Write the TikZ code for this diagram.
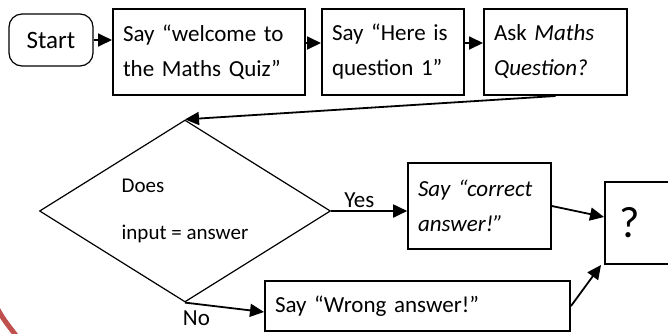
\documentclass[tikz,border=0pt]{standalone}
\usepackage{fontspec}
\setmainfont{Carlito}
\usetikzlibrary{shapes.geometric,arrows.meta}
\definecolor{arcred}{RGB}{192,80,77}
\tikzset{
    procbox/.style={draw,line width=2pt,rectangle,minimum height=86pt,inner xsep=10pt,align=left,font=\fontsize{23}{35}\selectfont},
    flowarrow/.style={line width=1.8pt,-{Triangle[length=14pt,width=13pt]}},
    lbl/.style={font=\fontsize{23}{28}\selectfont}
}

\begin{document}
\begin{tikzpicture}[x=1pt,y=-1pt]
    \useasboundingbox (0,0) rectangle (668,333);
    \clip (0,0) rectangle (668,333);
    \node [draw,line width=1.2pt,rounded corners=13pt,minimum width=84pt,minimum height=52pt,font=\fontsize{25}{30}\selectfont] (start) at (51,40){Start};
    \node [procbox,text width=172pt] (welcome) at (209,52){Say “welcome to\\the Maths Quiz”};
    \node [procbox,text width=122pt] (here) at (393,52){Say “Here is\\question 1”};
    \node [procbox,text width=123pt] (ask) at (555.5,52){Ask \textit{Maths}\\\textit{Question?}};
    \node [draw,diamond,aspect=1.6,line width=1.2pt,minimum width=291pt,minimum height=182pt,inner sep=0pt,align=left,font=\fontsize{21}{47}\selectfont] (check) at (185,211){Does\\input = answer};
    \node [procbox,line width=1.6pt,text width=123pt,font=\fontsize{23}{35}\selectfont\itshape] (correct) at (479.5,206){Say “correct\\answer!”};
    \node [procbox,minimum height=82pt,inner xsep=14pt,text width=70pt,font=\fontsize{44}{44}\selectfont,anchor=west] (result) at (604,223){?};
    \node [procbox,minimum height=50pt,text width=285pt] (wrong) at (417.5,306){Say “Wrong answer!”};

    \draw [flowarrow] (start.east) -- (welcome.west |- start.east);
    \draw [flowarrow] ([yshift=9pt]welcome.east) -- ([yshift=9pt]here.west);
    \draw [flowarrow] ([yshift=9pt]here.east) -- ([yshift=9pt]ask.west);
    \draw [flowarrow] (ask.south) -- (check.north);
    \draw [flowarrow] (check.east) -- (correct.west |- check.east) node[pos=0.37,above,inner sep=2pt,lbl]{Yes};
    \draw [flowarrow] (correct.east) -- ([yshift=6pt]result.west);
    \draw [flowarrow] (check.south) node[anchor=north west,xshift=-4pt,yshift=-6pt,inner sep=1pt,lbl]{No} -- ([yshift=-6pt]wrong.west);
    \draw [flowarrow] (wrong.east) -- ([xshift=-3pt]result.south west);

    \draw [line width=5pt,arcred] (-3,308) .. controls (4,320) .. (18,338);
\end{tikzpicture}
\end{document}
